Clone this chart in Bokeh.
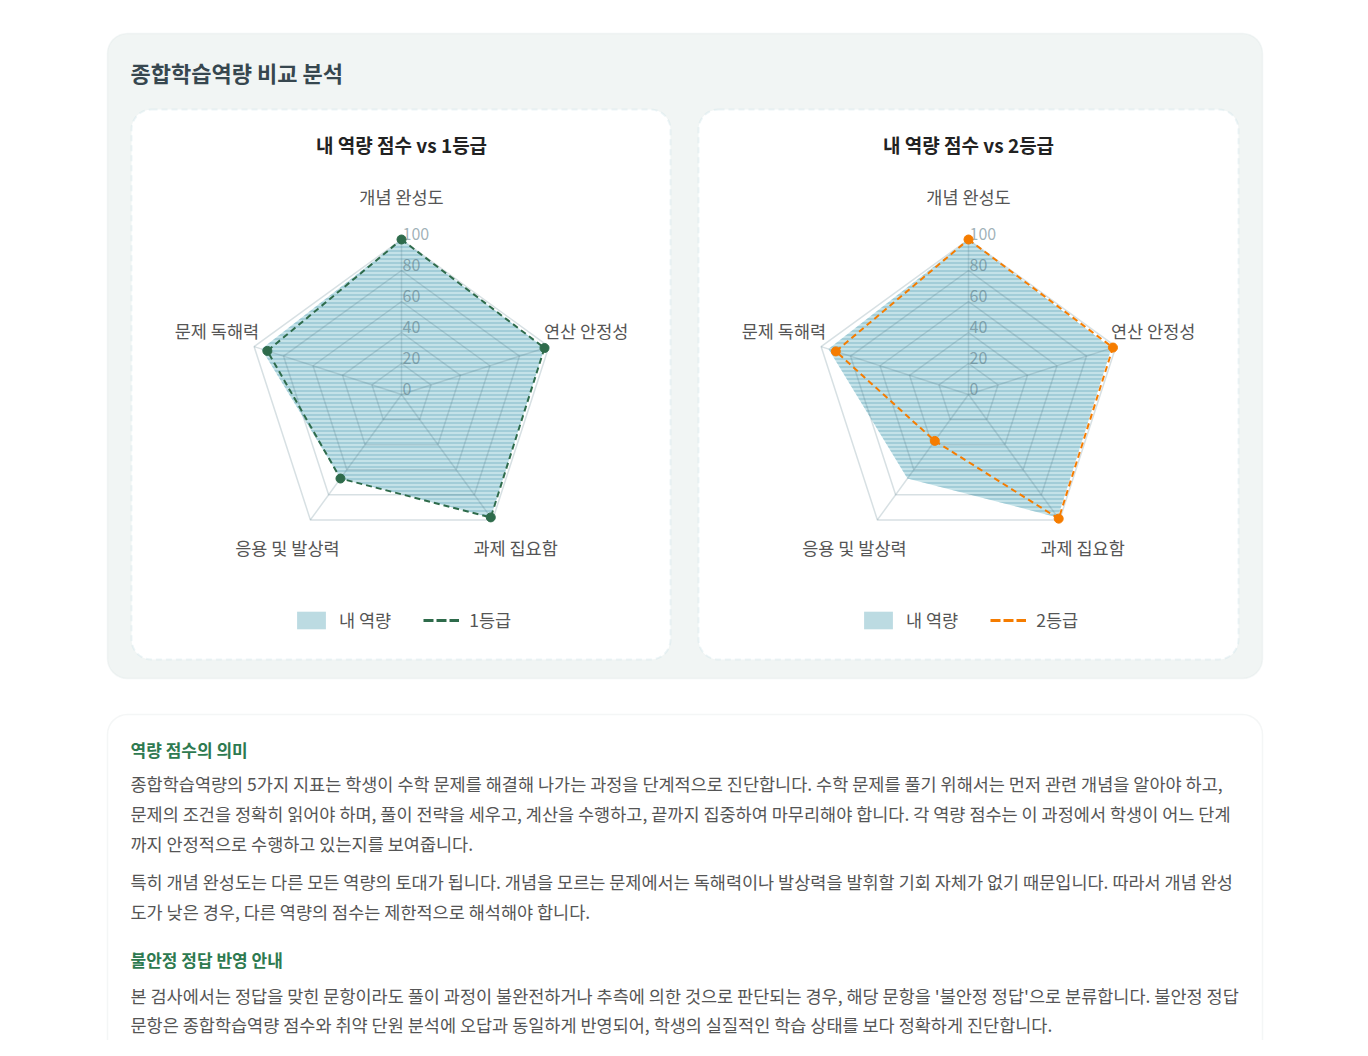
import numpy as np
from bokeh.plotting import figure
from bokeh.models import Range1d, BoxAnnotation, ColumnDataSource, Legend, LegendItem
from bokeh.core.properties import value
from bokeh.embed import file_html
from bokeh.resources import INLINE

# ---------------- data ----------------
categories = ["개념 완성도", "연산 안정성", "과제 집요함", "응용 및 발상력", "문제 독해력"]
my_scores = [100, 97, 98, 67, 95]
grade1_scores = [100, 97, 98, 67, 91]
grade2_scores = [100, 98, 99, 37, 90]
tick_values = [0, 20, 40, 60, 80, 100]
grid_levels = [20, 40, 60, 80, 100]
chart_titles = ["내 역량 점수 vs 1등급", "내 역량 점수 vs 2등급"]
my_label = "내 역량"
grade_labels = ["1등급", "2등급"]
page_title = "종합학습역량 비교 분석"
heading1 = "역량 점수의 의미"
para1 = [
    "종합학습역량의 5가지 지표는 학생이 수학 문제를 해결해 나가는 과정을 단계적으로 진단합니다. 수학 문제를 풀기 위해서는 먼저 관련 개념을 알아야 하고,",
    "문제의 조건을 정확히 읽어야 하며, 풀이 전략을 세우고, 계산을 수행하고, 끝까지 집중하여 마무리해야 합니다. 각 역량 점수는 이 과정에서 학생이 어느 단계",
    "까지 안정적으로 수행하고 있는지를 보여줍니다.",
]
para2 = [
    "특히 개념 완성도는 다른 모든 역량의 토대가 됩니다. 개념을 모르는 문제에서는 독해력이나 발상력을 발휘할 기회 자체가 없기 때문입니다. 따라서 개념 완성",
    "도가 낮은 경우, 다른 역량의 점수는 제한적으로 해석해야 합니다.",
]
heading2 = "불안정 정답 반영 안내"
para3 = [
    "본 검사에서는 정답을 맞힌 문항이라도 풀이 과정이 불완전하거나 추측에 의한 것으로 판단되는 경우, 해당 문항을 '불안정 정답'으로 분류합니다. 불안정 정답",
    "문항은 종합학습역량 점수와 취약 단원 분석에 오답과 동일하게 반영되어, 학생의 실질적인 학습 상태를 보다 정확하게 진단합니다.",
]

# ---------------- style ----------------
FONT = "Noto Sans CJK KR"
GRID = "#4a7080"
FILL = "#9dcfd9"
HATCH = "#8cc0cd"
SWATCH = "#bcdbe2"
GREEN = "#2e6b4b"
ORANGE = "#f57c00"
TEXT = "#555555"

W, H = 1352, 1040
X0, Y0 = 0, 0

p = figure(width=W, height=H, x_range=Range1d(X0, X0 + W), y_range=Range1d(Y0 + H, Y0),
           output_backend="svg", toolbar_location=None, min_border=0)
p.xaxis.visible = False
p.yaxis.visible = False
p.xgrid.visible = False
p.ygrid.visible = False
p.outline_line_color = None
p.background_fill_color = "white"
p.border_fill_color = "white"

# panels
p.add_layout(BoxAnnotation(left=107, right=1262, top=33, bottom=678, fill_color="#f1f5f4", fill_alpha=1,
                           line_color="#dbe4e3", line_width=1.5, border_radius=20, level="underlay"))
for (l, r) in [(131, 670), (698, 1238)]:
    p.add_layout(BoxAnnotation(left=l, right=r, top=109, bottom=659, fill_color="white", fill_alpha=1,
                               line_color="#c2dde3", line_width=2, line_dash="6 4", border_radius=20,
                               level="underlay"))
p.add_layout(BoxAnnotation(left=107, right=1262, top=714, bottom=1130, fill_color="white", fill_alpha=1,
                           line_color="#d9e2e1", line_width=1.5, border_radius=20, level="underlay"))

# titles
p.text(x=[130], y=[71], text=[page_title], text_font=value(FONT), text_font_size="22px",
       text_font_style="bold", text_color="#37474f", text_align="left", text_baseline="middle")

S = 1.55  # pixels per score unit
centers = [(401, 394), (968, 394)]
angles = np.arange(len(categories)) * 2 * np.pi / len(categories)


def polar(vals):
    v = np.asarray(vals, dtype=float)
    return v * np.sin(angles), v * np.cos(angles)


label_offsets = [(0, -43, "center"), (-5, -16, "left"), (23, 28, "center"), (-23, 28, "center"), (5, -16, "right")]
grade_sets = [grade1_scores, grade2_scores]
grade_colors = [GREEN, ORANGE]

for k, (cx, cy) in enumerate(centers):
    xr, yr = f"rx{k}", f"ry{k}"
    p.extra_x_ranges[xr] = Range1d((X0 - cx) / S, (X0 + W - cx) / S)
    p.extra_y_ranges[yr] = Range1d((cy - (Y0 + H)) / S, (cy - Y0) / S)
    kw = dict(x_range_name=xr, y_range_name=yr)

    p.text(x=[cx], y=[144], text=[chart_titles[k]], text_font=value(FONT), text_font_size="19px",
           text_font_style="bold", text_color="#222222", text_align="center", text_baseline="middle")

    # my score fill
    mx, my = polar(my_scores)
    p.patch(mx, my, fill_color=FILL, fill_alpha=0.6, hatch_pattern="horizontal_line", hatch_color=HATCH,
            hatch_alpha=0.6, hatch_scale=4, hatch_weight=2, line_color=None, **kw)

    # grid
    gx, gy = [], []
    for lv in grid_levels:
        x, y = polar([lv] * len(categories))
        gx.append(list(x) + [x[0]])
        gy.append(list(y) + [y[0]])
    p.multi_line(gx, gy, line_color=GRID, line_alpha=0.22, line_width=1.5, **kw)
    ox, oy = polar([100] * len(categories))
    p.segment(x0=[0] * 5, y0=[0] * 5, x1=ox, y1=oy, line_color=GRID, line_alpha=0.22, line_width=1.5, **kw)

    # tick labels
    p.text(x=[1 / S] * len(tick_values), y=[t + 6 / S for t in tick_values],
           text=[str(t) for t in tick_values], text_font=value(FONT), text_font_size="16px",
           text_color="#50707c", text_alpha=0.55, text_align="left", text_baseline="middle", **kw)

    # category labels
    lsrc = ColumnDataSource(dict(
        x=[ox[i] + label_offsets[i][0] / S for i in range(5)],
        y=[oy[i] - label_offsets[i][1] / S for i in range(5)],
        t=categories,
        a=[label_offsets[i][2] for i in range(5)],
    ))
    p.text(x="x", y="y", text="t", text_align="a", source=lsrc, text_font=value(FONT),
           text_font_size="17.5px", text_color=TEXT, text_baseline="middle", **kw)

    # grade line
    gxs, gys = polar(grade_sets[k])
    col = grade_colors[k]
    p.line(list(gxs) + [gxs[0]], list(gys) + [gys[0]], line_color=col, line_width=2,
           line_dash="6 4", **kw)
    p.scatter(gxs, gys, size=9, fill_color=col, line_color=col, **kw)

    # legend (glyph renderers kept outside the visible frame)
    sw = p.quad(left=[-60], right=[-50], top=[-60], bottom=[-50], fill_color=SWATCH, line_color=None)
    ll = p.line(x=[-60, -50], y=[-60, -60], line_color=col, line_width=3, line_dash="10 3")
    leg = Legend(items=[LegendItem(label=my_label, renderers=[sw]),
                        LegendItem(label=grade_labels[k], renderers=[ll])],
                 location=(cx - 108 - X0, Y0 + H - 632), orientation="horizontal",
                 glyph_width=36, glyph_height=22, label_standoff=10, spacing=32, padding=0, margin=0,
                 border_line_alpha=0, background_fill_alpha=0, label_text_font=FONT,
                 label_text_font_size="17.5px", label_text_color=TEXT, label_height=22)
    p.add_layout(leg)

# text block
p.text(x=[130, 130], y=[749, 959], text=[heading1, heading2], text_font=value(FONT),
       text_font_size="17px", text_font_style="bold", text_color="#2e7a50",
       text_align="left", text_baseline="middle")
body_lines = para1 + para2 + para3
body_y = [783 + 30 * i for i in range(len(para1))] + [881 + 30 * i for i in range(len(para2))] + \
         [995 + 29 * i for i in range(len(para3))]
p.text(x=[130] * len(body_lines), y=body_y, text=body_lines, text_font=value(FONT),
       text_font_size="17.5px", text_color=TEXT, text_align="left", text_baseline="middle")

open("out.html", "w").write(file_html(p, INLINE))
